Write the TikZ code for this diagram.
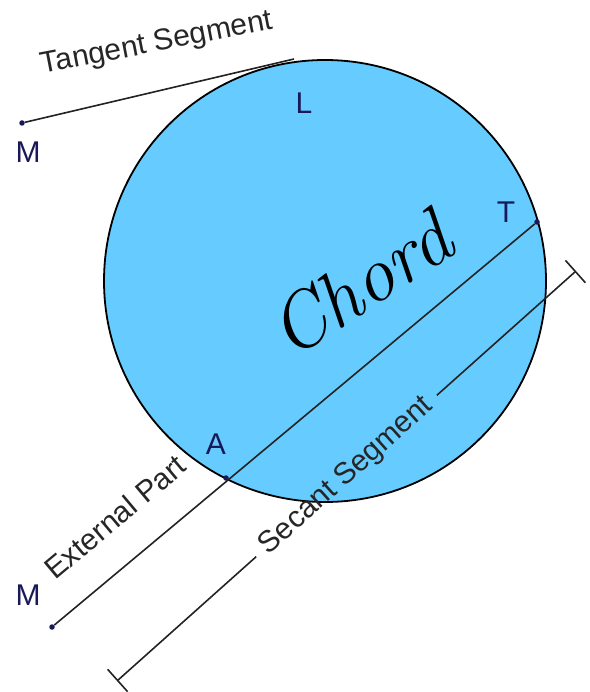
\documentclass[tikz,border=0pt]{standalone}
\usepackage{fontspec}
\newfontfamily\arialfont{Liberation Sans}
\usepackage{tikz}
\usetikzlibrary{arrows.meta, calc}

\definecolor{discblue}{RGB}{102,204,255}
\definecolor{ptnavy}{RGB}{25,25,90}
\definecolor{linegray}{RGB}{35,35,35}

\begin{document}
\begin{tikzpicture}[
  x=1pt, y=-1pt,
  every node/.style={font=\arialfont\fontsize{30}{36}\selectfont},
  disc/.style={circle, draw=black, line width=1.8pt, fill=discblue, minimum size=442pt, inner sep=0pt},
  dot/.style={circle, fill=ptnavy, minimum size=5.5pt, inner sep=0pt},
  ptlabel/.style={text=ptnavy, inner sep=0pt},
  seg/.style={draw=linegray, line width=1.6pt},
  segtext/.style={text=black!85, inner sep=0pt},
  dimtext/.style={text=black!85, inner xsep=10pt, inner ysep=2pt},
]
\useasboundingbox (0,0) rectangle (589,692);

% ---- Circle ----
\node[disc] (circ) at (325,281) {};

% ---- Points ----
\node[dot] (M1) at (22,123) {};
\coordinate (L0) at (294,59);
\node[dot] (M2) at (52,627) {};
\node[dot] (A) at (226,478) {};
\node[dot] (T) at (537,222) {};

\node[ptlabel] (labM1) at (28,152) {M};
\node[ptlabel] (labL) at (304,103) {L};
\node[ptlabel] (labT) at (506,212) {T};
\node[ptlabel] (labA) at (216,444) {A};
\node[ptlabel] (labM2) at (28,595) {M};

% ---- Tangent and secant ----
\draw[seg] (M1) -- (L0);
\draw[seg] (M2) -- (T);

\node[segtext, rotate=11] (tantext) at (157,44) {Tangent Segment};
\node[segtext, rotate=40] (exttext) at (115,517) {External Part};

% ---- Secant segment dimension line ----
\coordinate (S1) at (117,681);
\coordinate (S2) at (576,271);
\node[dimtext, rotate=41.8] (sectext) at ($(S1)!0.5!(S2)$) {Secant Segment};
\draw[seg, {Bar[width=30pt]}-] (S1) -- (sectext);
\draw[seg, -{Bar[width=30pt]}] (sectext) -- (S2);

% ---- Handwritten note ----
\node[font=\rmfamily\itshape\fontsize{78}{84}\selectfont, rotate=33] (chord) at (360,284) {Chord};

\end{tikzpicture}
\end{document}
